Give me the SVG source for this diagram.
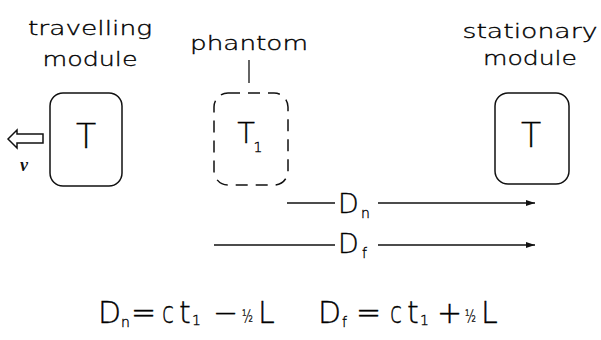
<svg xmlns="http://www.w3.org/2000/svg" width="601" height="340" viewBox="0 0 601 340">
<defs>
<style>
.t{font-family:"DejaVu Sans ExtraLight","DejaVu Sans","Liberation Sans",sans-serif;font-weight:200;fill:#000;stroke:#000;stroke-width:0.35}
.lbl{font-size:20px}
.box{fill:none;stroke:#111;stroke-width:1.5}
.dash{stroke-dasharray:12 8}
.ln{stroke:#111;stroke-width:1.3;fill:none}
.big{font-size:33px}
.eq{font-size:30px}
.sub{font-size:14px}
.half{font-size:17px}
</style>
<marker id="ah" markerWidth="10" markerHeight="8" refX="9" refY="4" orient="auto" markerUnits="userSpaceOnUse">
<path d="M0,1 L9,4 L0,7 Z" fill="#111"/>
</marker>
</defs>
<rect width="601" height="340" fill="#fff"/>

<g id="travelling">
<text class="t lbl" x="90" y="35" text-anchor="middle" textLength="124" lengthAdjust="spacingAndGlyphs">travelling</text>
<text class="t lbl" x="90" y="66" text-anchor="middle" textLength="95" lengthAdjust="spacingAndGlyphs">module</text>
<rect class="box" x="50" y="93" width="72" height="93" rx="13"/>
<text class="t big" x="86" y="148" text-anchor="middle">T</text>
<polygon class="box" points="8,139 17,130 17,134 43,134 43,143 17,143 17,148"/>
<text x="24" y="171" text-anchor="middle" font-family="Liberation Serif,serif" font-size="18" font-weight="bold" font-style="italic" fill="#111">v</text>
</g>

<g id="phantom">
<text class="t lbl" x="249" y="50" text-anchor="middle" textLength="118" lengthAdjust="spacingAndGlyphs">phantom</text>
<rect class="box dash" x="214" y="93" width="74" height="92" rx="14"/>
<text class="t" x="246" y="143" text-anchor="middle" font-size="29">T</text>
<text class="t sub" x="258" y="152" text-anchor="middle">1</text>
</g>

<g id="stationary">
<text class="t lbl" x="530" y="38" text-anchor="middle" textLength="135" lengthAdjust="spacingAndGlyphs">stationary</text>
<text class="t lbl" x="530" y="65" text-anchor="middle" textLength="94" lengthAdjust="spacingAndGlyphs">module</text>
<rect class="box" x="495" y="93" width="74" height="91" rx="13"/>
<text class="t big" x="531" y="147" text-anchor="middle">T</text>
</g>

<g id="connectors">
<line class="ln" x1="249" y1="60" x2="249" y2="83"/>
<line class="ln" x1="287" y1="203" x2="335" y2="203"/>
<line class="ln" x1="378" y1="203" x2="535" y2="203" marker-end="url(#ah)"/>
<line class="ln" x1="214" y1="245" x2="335" y2="245"/>
<line class="ln" x1="378" y1="245" x2="535" y2="245" marker-end="url(#ah)"/>
</g>

<g id="labels">
<text class="t" x="338" y="213" font-size="27">D</text>
<text class="t sub" x="361" y="218">n</text>
<text class="t" x="338" y="253" font-size="27">D</text>
<text class="t sub" x="362" y="258">f</text>
</g>

<g id="equations">
<text class="t eq" x="98" y="323">D</text>
<text class="t sub" x="121" y="327">n</text>
<text class="t eq" x="131" y="323">=</text>
<text class="t eq" x="162" y="323" textLength="12" lengthAdjust="spacingAndGlyphs">c</text>
<text class="t eq" x="179" y="323">t</text>
<text class="t sub" x="192" y="325">1</text>
<text class="t eq" x="213" y="323">−</text>
<text class="t half" x="242" y="322" textLength="11" lengthAdjust="spacingAndGlyphs">½</text>
<text class="t eq" x="258" y="323">L</text>

<text class="t eq" x="318" y="323">D</text>
<text class="t sub" x="342" y="327">f</text>
<text class="t eq" x="356" y="323">=</text>
<text class="t eq" x="390" y="323" textLength="12" lengthAdjust="spacingAndGlyphs">c</text>
<text class="t eq" x="407" y="323">t</text>
<text class="t sub" x="420" y="325">1</text>
<text class="t eq" x="437" y="323">+</text>
<text class="t half" x="465" y="322" textLength="11" lengthAdjust="spacingAndGlyphs">½</text>
<text class="t eq" x="481" y="323">L</text>
</g>
</svg>
